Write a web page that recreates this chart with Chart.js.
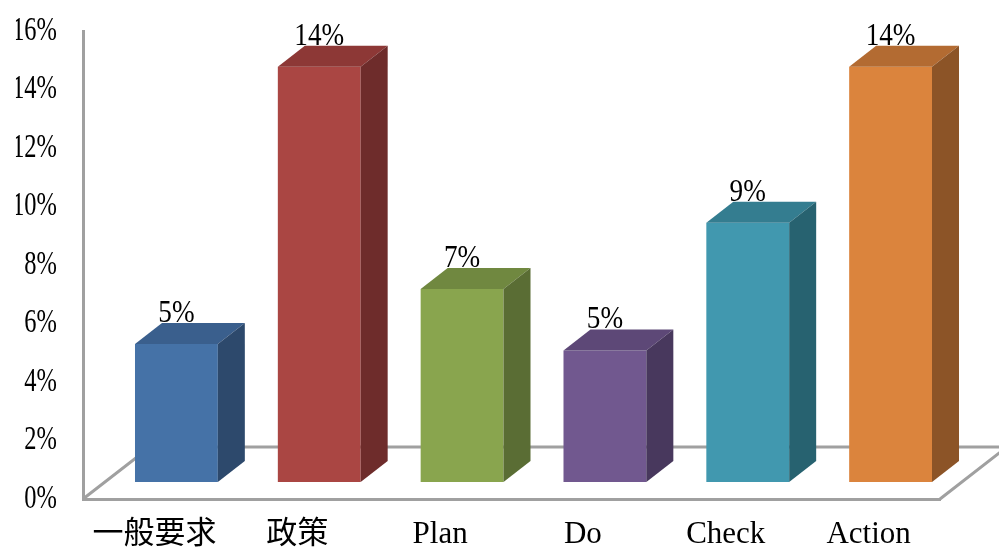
<!DOCTYPE html>
<html><head><meta charset="utf-8">
<script src="https://cdn.jsdelivr.net/npm/chart.js@4"></script>
<style>html,body{margin:0;padding:0;background:#fff}#wrap{width:999px;height:553px;position:relative}</style>
</head><body><div id="wrap"><canvas id="c" width="999" height="553"></canvas></div>
<script>
// ---- data ----
const categories = ['一般要求', '政策', 'Plan', 'Do', 'Check', 'Action'];
const values = [4.72, 14.2, 6.6, 4.5, 8.86, 14.2];
const valueLabels = ['5%', '14%', '7%', '5%', '9%', '14%'];
const yTickValues = [0, 2, 4, 6, 8, 10, 12, 14, 16];
const yTickLabels = ['0%', '2%', '4%', '6%', '8%', '10%', '12%', '14%', '16%'];
const frontColors = ['#4572A7', '#AA4643', '#89A54E', '#71588F', '#4198AF', '#DB843D'];
const topColors   = ['#3A5F8D', '#8D3836', '#708840', '#5D4877', '#347D90', '#B36B32'];
const sideColors  = ['#2D496C', '#6E2C2B', '#5A6D34', '#48385D', '#276270', '#8C5427'];

// ---- 3D geometry (pixels) ----
const FACE_DX = 22, FACE_DY = 17;   // front face offset into depth
const BAR_DX = 27, BAR_DY = 21;     // bar depth
const FLOOR_DX = 67, FLOOR_DY = 52; // floor depth
const Y_SQUEEZE = 0.72, LABEL_SQUEEZE = 0.85;
const LINE_COLOR = '#A0A0A0';

const threeD = {
  id: 'threeD',
  beforeDraw(chart) {
    const s = chart.scales.y;
    if (s && !s.__wrapped) {
      const orig = s.drawLabels;
      s.drawLabels = function (area) {
        const ctx = this.ctx;
        const ax = this.right - this.options.ticks.padding;
        ctx.save();
        ctx.translate(ax, 0); ctx.scale(Y_SQUEEZE, 1); ctx.translate(-ax, 0);
        orig.call(this, area);
        ctx.restore();
      };
      s.__wrapped = true;
    }
  },
  beforeDatasetsDraw(chart) {
    const ctx = chart.ctx, a = chart.chartArea;
    ctx.save();
    ctx.strokeStyle = LINE_COLOR;
    ctx.lineWidth = 3;
    ctx.lineCap = 'butt';
    ctx.beginPath();
    ctx.moveTo(a.left, a.bottom); ctx.lineTo(a.left + FLOOR_DX, a.bottom - FLOOR_DY);
    ctx.lineTo(a.right + FLOOR_DX, a.bottom - FLOOR_DY); ctx.lineTo(a.right, a.bottom);
    ctx.stroke();
    ctx.restore();
    ctx.save();
    ctx.translate(FACE_DX, -FACE_DY);
  },
  afterDatasetsDraw(chart) {
    const ctx = chart.ctx;
    ctx.restore();
    const meta = chart.getDatasetMeta(0);
    meta.data.forEach((el, i) => {
      const p = el.getProps(['x', 'y', 'base', 'width'], true);
      const L = p.x - p.width / 2 + FACE_DX, R = p.x + p.width / 2 + FACE_DX;
      const T = p.y - FACE_DY, B = p.base - FACE_DY;
      ctx.save();
      // top
      ctx.fillStyle = topColors[i];
      ctx.beginPath();
      ctx.moveTo(L, T); ctx.lineTo(R, T); ctx.lineTo(R + BAR_DX, T - BAR_DY); ctx.lineTo(L + BAR_DX, T - BAR_DY);
      ctx.closePath(); ctx.fill();
      // side
      ctx.fillStyle = sideColors[i];
      ctx.beginPath();
      ctx.moveTo(R, T); ctx.lineTo(R + BAR_DX, T - BAR_DY); ctx.lineTo(R + BAR_DX, B - BAR_DY); ctx.lineTo(R, B);
      ctx.closePath(); ctx.fill();
      // value label
      const cx = (L + R) / 2, by = T - BAR_DY - 1;
      ctx.translate(cx, by); ctx.scale(LABEL_SQUEEZE, 1);
      ctx.fillStyle = '#000';
      ctx.font = '32px "Liberation Serif", "Noto Sans CJK TC", serif';
      ctx.textAlign = 'center'; ctx.textBaseline = 'alphabetic';
      ctx.fillText(valueLabels[i], 0, 0);
      ctx.restore();
    });
  }
};

new Chart(document.getElementById('c'), {
  type: 'bar',
  data: {
    labels: categories,
    datasets: [{
      data: values,
      backgroundColor: frontColors,
      borderWidth: 0,
      categoryPercentage: 1,
      barPercentage: 0.58
    }]
  },
  options: {
    responsive: false,
    animation: false,
    devicePixelRatio: 1,
    layout: { padding: { top: 31, right: 59, left: 0, bottom: 0 } },
    plugins: { legend: { display: false }, tooltip: { enabled: false } },
    scales: {
      x: {
        grid: { display: false, drawTicks: false },
        border: { display: true, color: LINE_COLOR, width: 3 },
        ticks: {
          color: '#000', padding: 17, maxRotation: 0, autoSkip: false,
          font: { family: '"Liberation Serif", "Noto Sans CJK TC", serif', size: 31 }
        },
        afterFit(s) { s.height = 54; s.paddingLeft = 0; s.paddingRight = 0; }
      },
      y: {
        min: 0, max: 16,
        afterBuildTicks(s) { s.ticks = yTickValues.map(v => ({ value: v })); },
        grid: { display: false, drawTicks: false },
        border: { display: true, color: LINE_COLOR, width: 3 },
        ticks: {
          color: '#000', padding: 26,
          font: { family: '"Liberation Serif", serif', size: 34 },
          callback: (v, i) => yTickLabels[i]
        },
        afterFit(s) { s.width = 83; s.paddingTop = 0; s.paddingBottom = 0; }
      }
    }
  },
  plugins: [threeD]
});
</script>
</body></html>
